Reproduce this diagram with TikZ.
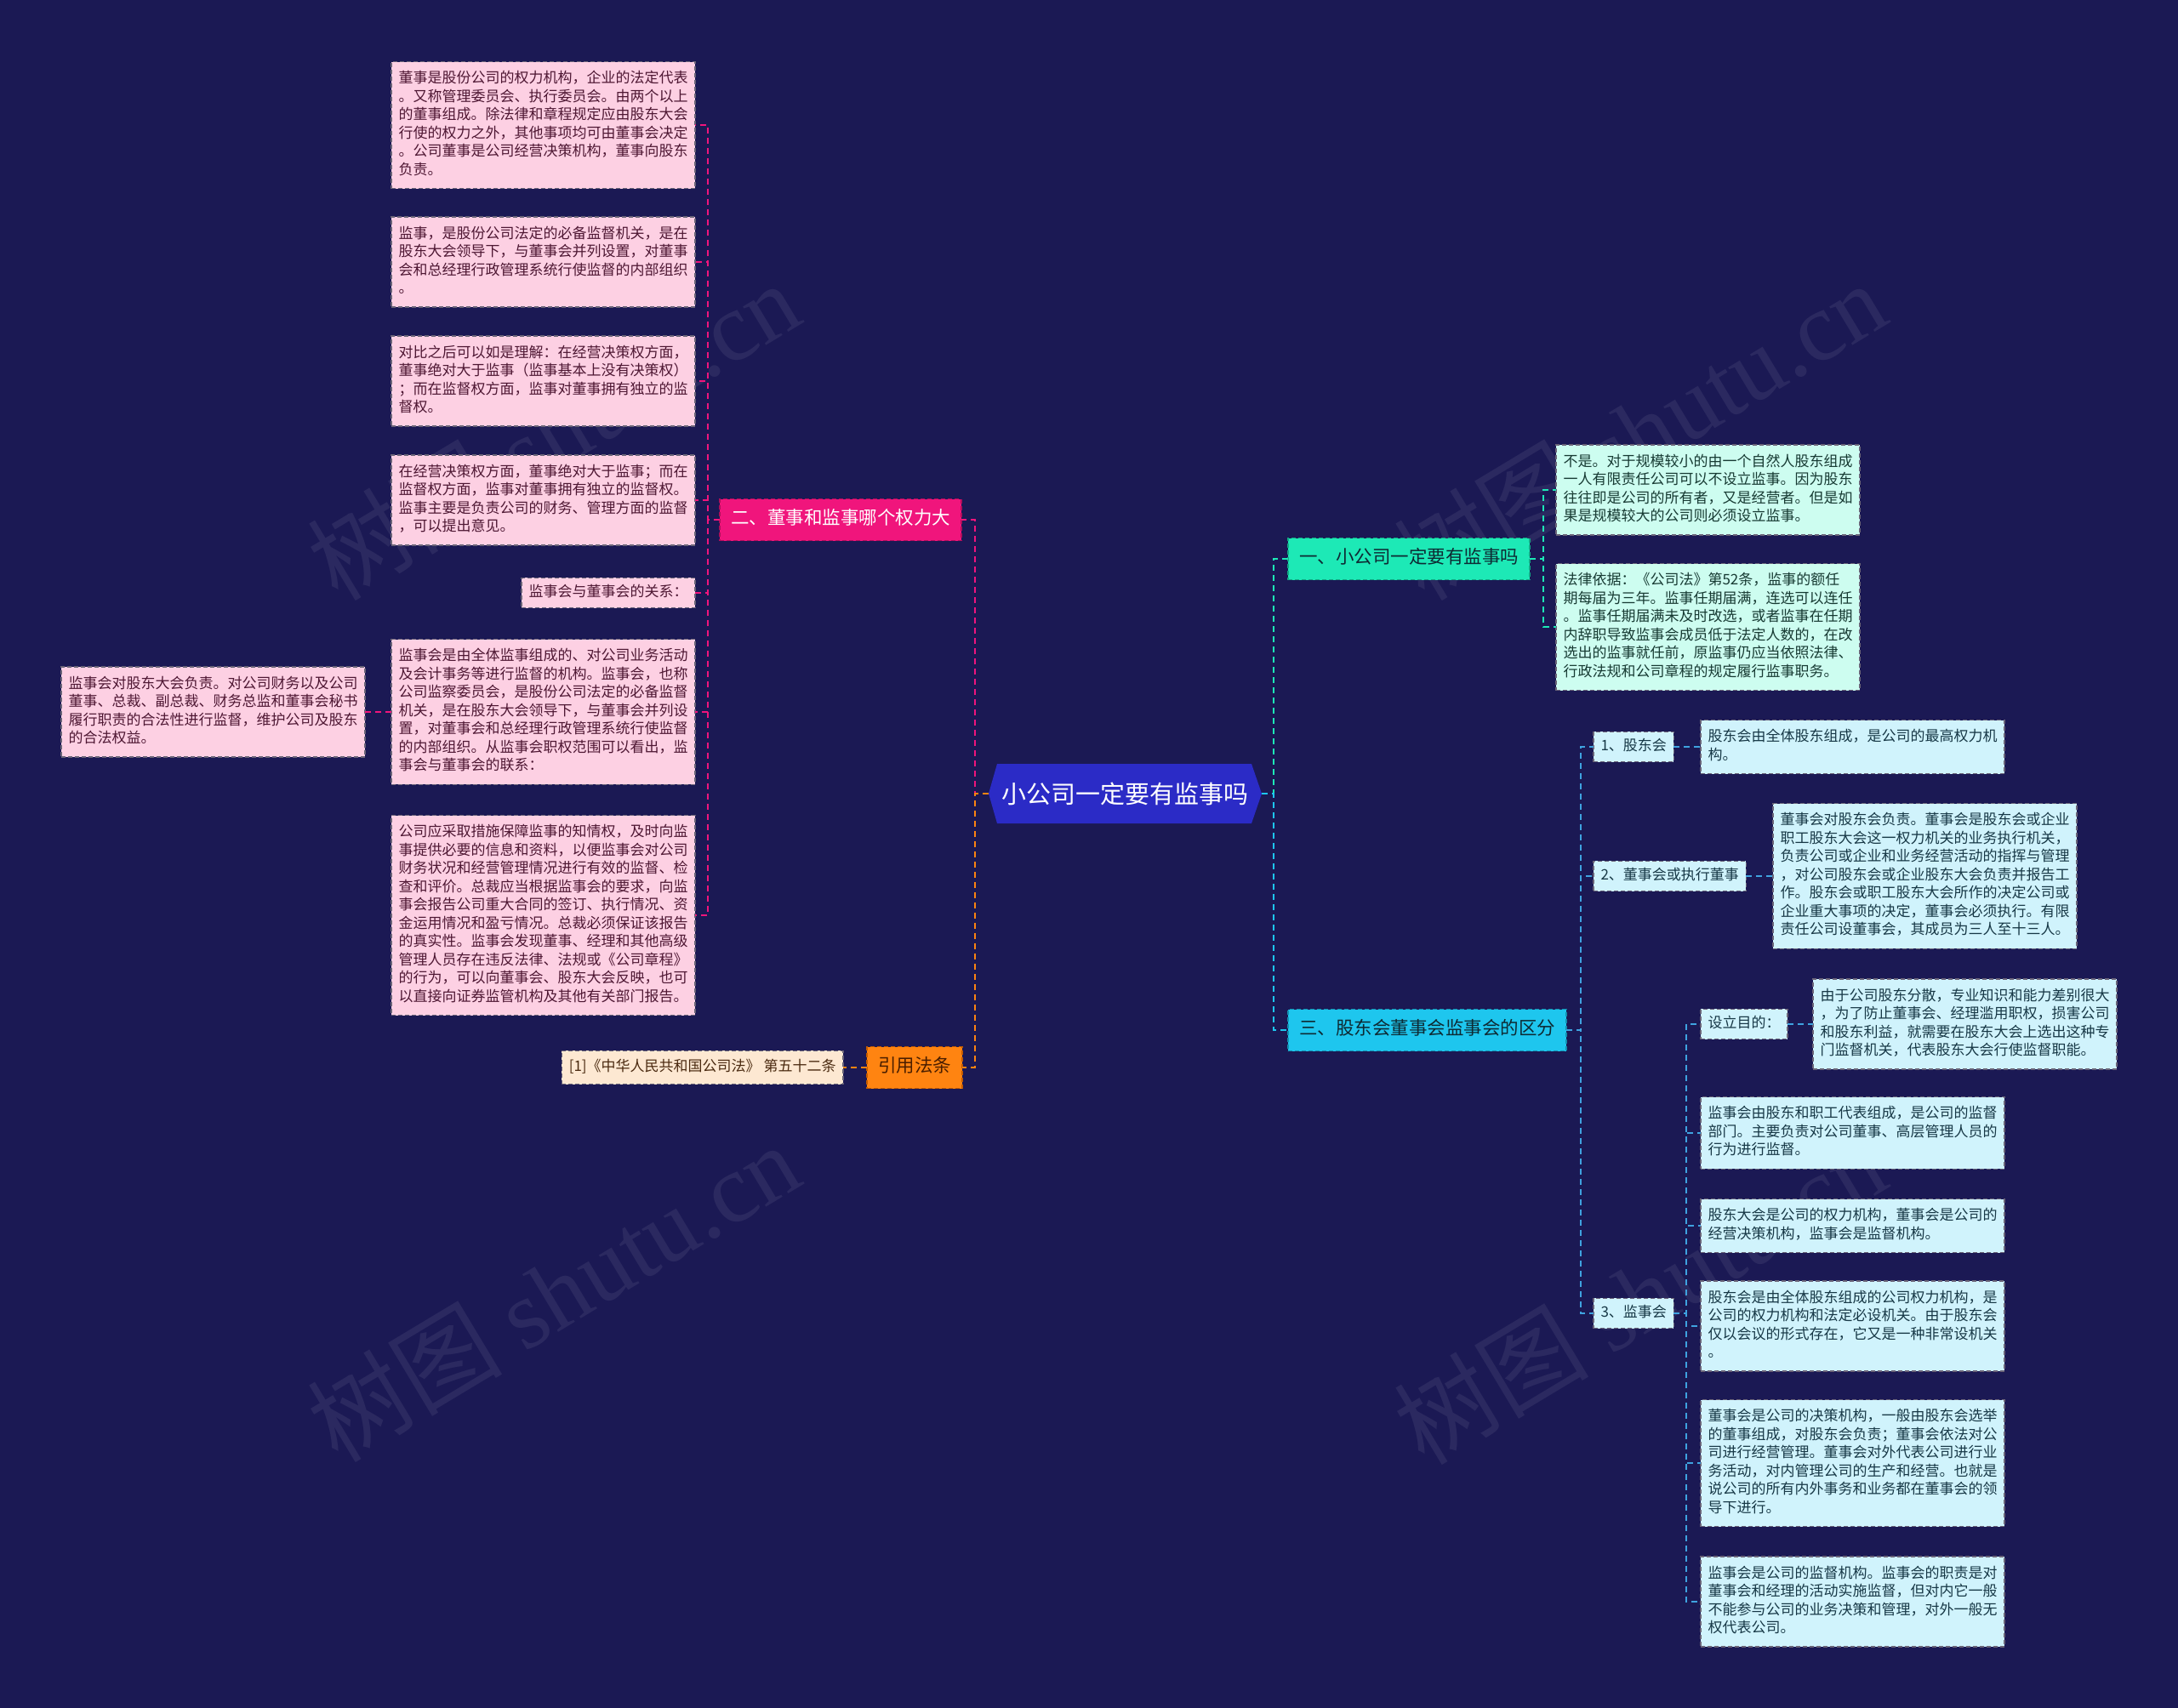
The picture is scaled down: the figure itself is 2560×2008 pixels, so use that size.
\documentclass[tikz,border=0pt]{standalone}
\usepackage{fontspec}
\setmainfont{Noto Sans CJK SC}
\newfontfamily\wmlatin{Liberation Serif}
\definecolor{bg}{HTML}{1B1954}
\definecolor{rootc}{HTML}{2B2BC6}
\definecolor{magc}{HTML}{F0157C}
\definecolor{magb}{HTML}{B00E5A}
\definecolor{orgc}{HTML}{FF8411}
\definecolor{orgb}{HTML}{C25A00}
\definecolor{orgt}{HTML}{4A1E00}
\definecolor{tealc}{HTML}{1DE9B6}
\definecolor{tealb}{HTML}{12A884}
\definecolor{cyanc}{HTML}{1EC6EE}
\definecolor{cyanb}{HTML}{1490B0}
\definecolor{bluel}{HTML}{3FA3E0}
\definecolor{pinkf}{HTML}{FDD0E3}
\definecolor{pinkt}{HTML}{4E1733}
\definecolor{peachf}{HTML}{FDE8D2}
\definecolor{peacht}{HTML}{4A2A10}
\definecolor{mintf}{HTML}{CDFDF0}
\definecolor{mintt}{HTML}{173A33}
\definecolor{cyanf}{HTML}{D0F3FC}
\definecolor{cyant}{HTML}{173846}
\definecolor{darkt}{HTML}{0E2A33}
\definecolor{leafb}{HTML}{6A6478}
\begin{document}
\begin{tikzpicture}[x=1pt,y=-1pt,
  every node/.style={inner sep=0pt,outer sep=0pt},
  dbox/.style={draw=#1, dash pattern=on 5pt off 3pt, line width=1.2pt, align=left,
    execute at begin node=\strut, execute at end node=\strut},
  leaftxt/.style={font=\fontsize{17}{21.5}\selectfont, inner xsep=8.5pt, inner ysep=10pt},
  wide/.style={text width=340pt},
  small/.style={inner ysep=7pt},
  pinkleaf/.style={dbox=leafb, fill=pinkf, text=pinkt, leaftxt},
  mintleaf/.style={dbox=leafb, fill=mintf, text=mintt, leaftxt},
  cyanleaf/.style={dbox=leafb, fill=cyanf, text=cyant, leaftxt},
  peachleaf/.style={dbox=leafb, fill=peachf, text=peacht, leaftxt, inner ysep=9pt},
  branch/.style={dbox=#1, font=\fontsize{21.5}{26}\selectfont, inner xsep=13pt, inner ysep=11.5pt},
  conn/.style={draw=#1, line width=2pt, dash pattern=on 7pt off 5pt},
  wm/.style={text=white, text opacity=0.07, font=\fontsize{115}{120}\selectfont, rotate=31}
]
\useasboundingbox (0,0) rectangle (2560,2008);
\fill[bg] (0,0) rectangle (2560,2008);

% watermarks
\node[wm] (wm1) at (650,506) {树图 {\wmlatin shutu.cn}};
\node[wm] (wm2) at (1927,506) {树图 {\wmlatin shutu.cn}};
\node[wm] (wm3) at (650,1519) {树图 {\wmlatin shutu.cn}};
\node[wm] (wm4) at (1927,1522) {树图 {\wmlatin shutu.cn}};

% root
\fill[rootc] (1162,933) -- (1172,898) -- (1471,898) -- (1483,933) -- (1471,968) -- (1172,968) -- cycle;
\node[text=white, font=\fontsize{29}{34}\selectfont, minimum width=321pt, minimum height=70pt] (root) at (1322.5,933) {小公司一定要有监事吗};

% level 1
\node[branch=magb, fill=magc, text=white, anchor=east] (b2) at (1130,611) {二、董事和监事哪个权力大};
\node[branch=orgb, fill=orgc, text=orgt, anchor=east] (cite) at (1131,1255) {引用法条};
\node[branch=tealb, fill=tealc, text=darkt, anchor=west] (b1) at (1514,657) {一、小公司一定要有监事吗};
\node[branch=cyanb, fill=cyanc, text=darkt, anchor=west] (b3) at (1514,1211) {三、股东会董事会监事会的区分};

% left leaves
\node[pinkleaf, wide, anchor=east] (l1) at (817,147) {董事是股份公司的权力机构，企业的法定代表\\。又称管理委员会、执行委员会。由两个以上\\的董事组成。除法律和章程规定应由股东大会\\行使的权力之外，其他事项均可由董事会决定\\。公司董事是公司经营决策机构，董事向股东\\负责。};
\node[pinkleaf, wide, anchor=east] (l2) at (817,308) {监事，是股份公司法定的必备监督机关，是在\\股东大会领导下，与董事会并列设置，对董事\\会和总经理行政管理系统行使监督的内部组织\\。};
\node[pinkleaf, wide, anchor=east] (l3) at (817,448) {对比之后可以如是理解：在经营决策权方面，\\董事绝对大于监事（监事基本上没有决策权）\\；而在监督权方面，监事对董事拥有独立的监\\督权。};
\node[pinkleaf, wide, anchor=east] (l4) at (817,588) {在经营决策权方面，董事绝对大于监事；而在\\监督权方面，监事对董事拥有独立的监督权。\\监事主要是负责公司的财务、管理方面的监督\\，可以提出意见。};
\node[pinkleaf, small, anchor=east] (l5) at (817,697) {监事会与董事会的关系：};
\node[pinkleaf, wide, anchor=east] (l6) at (817,837) {监事会是由全体监事组成的、对公司业务活动\\及会计事务等进行监督的机构。监事会，也称\\公司监察委员会，是股份公司法定的必备监督\\机关，是在股东大会领导下，与董事会并列设\\置，对董事会和总经理行政管理系统行使监督\\的内部组织。从监事会职权范围可以看出，监\\事会与董事会的联系：};
\node[pinkleaf, wide, anchor=east] (l7) at (429,837) {监事会对股东大会负责。对公司财务以及公司\\董事、总裁、副总裁、财务总监和董事会秘书\\履行职责的合法性进行监督，维护公司及股东\\的合法权益。};
\node[pinkleaf, wide, anchor=east] (l8) at (817,1076) {公司应采取措施保障监事的知情权，及时向监\\事提供必要的信息和资料，以便监事会对公司\\财务状况和经营管理情况进行有效的监督、检\\查和评价。总裁应当根据监事会的要求，向监\\事会报告公司重大合同的签订、执行情况、资\\金运用情况和盈亏情况。总裁必须保证该报告\\的真实性。监事会发现董事、经理和其他高级\\管理人员存在违反法律、法规或《公司章程》\\的行为，可以向董事会、股东大会反映，也可\\以直接向证券监管机构及其他有关部门报告。};
\node[peachleaf, anchor=east] (ref) at (991,1255) {[1]《中华人民共和国公司法》 第五十二条};

% right: branch 1 leaves
\node[mintleaf, wide, anchor=west] (a1) at (1829,576) {不是。对于规模较小的由一个自然人股东组成\\一人有限责任公司可以不设立监事。因为股东\\往往即是公司的所有者，又是经营者。但是如\\果是规模较大的公司则必须设立监事。};
\node[mintleaf, wide, anchor=west] (a2) at (1829,737) {法律依据：《公司法》第52条，监事的额任\\期每届为三年。监事任期届满，连选可以连任\\。监事任期届满未及时改选，或者监事在任期\\内辞职导致监事会成员低于法定人数的，在改\\选出的监事就任前，原监事仍应当依照法律、\\行政法规和公司章程的规定履行监事职务。};

% right: branch 3
\node[cyanleaf, small, anchor=west] (s1) at (1873,878) {1、股东会};
\node[cyanleaf, wide, anchor=west] (s1c) at (1999,878) {股东会由全体股东组成，是公司的最高权力机\\构。};
\node[cyanleaf, small, anchor=west] (s2) at (1873,1030) {2、董事会或执行董事};
\node[cyanleaf, wide, anchor=west] (s2c) at (2084,1030) {董事会对股东会负责。董事会是股东会或企业\\职工股东大会这一权力机关的业务执行机关，\\负责公司或企业和业务经营活动的指挥与管理\\，对公司股东会或企业股东大会负责并报告工\\作。股东会或职工股东大会所作的决定公司或\\企业重大事项的决定，董事会必须执行。有限\\责任公司设董事会，其成员为三人至十三人。};
\node[cyanleaf, small, anchor=west] (s3) at (1873,1544) {3、监事会};
\node[cyanleaf, small, anchor=west] (p) at (1999,1204) {设立目的：};
\node[cyanleaf, wide, anchor=west] (pc) at (2131,1204) {由于公司股东分散，专业知识和能力差别很大\\，为了防止董事会、经理滥用职权，损害公司\\和股东利益，就需要在股东大会上选出这种专\\门监督机关，代表股东大会行使监督职能。};
\node[cyanleaf, wide, anchor=west] (c1) at (1999,1332) {监事会由股东和职工代表组成，是公司的监督\\部门。主要负责对公司董事、高层管理人员的\\行为进行监督。};
\node[cyanleaf, wide, anchor=west] (c2) at (1999,1441) {股东大会是公司的权力机构，董事会是公司的\\经营决策机构，监事会是监督机构。};
\node[cyanleaf, wide, anchor=west] (c3) at (1999,1559) {股东会是由全体股东组成的公司权力机构，是\\公司的权力机构和法定必设机关。由于股东会\\仅以会议的形式存在，它又是一种非常设机关\\。};
\node[cyanleaf, wide, anchor=west] (c4) at (1999,1720) {董事会是公司的决策机构，一般由股东会选举\\的董事组成，对股东会负责；董事会依法对公\\司进行经营管理。董事会对外代表公司进行业\\务活动，对内管理公司的生产和经营。也就是\\说公司的所有内外事务和业务都在董事会的领\\导下进行。};
\node[cyanleaf, wide, anchor=west] (c5) at (1999,1883) {监事会是公司的监督机构。监事会的职责是对\\董事会和经理的活动实施监督，但对内它一般\\不能参与公司的业务决策和管理，对外一般无\\权代表公司。};

% connectors
\draw[conn=magc] (root.west) -- ++(-16,0) |- (b2.east);
\draw[conn=orgc] (root.west) -- ++(-16,0) |- (cite.east);
\draw[conn=tealc] (root.east) -- ++(14,0) |- (b1.west);
\draw[conn=cyanc] (root.east) -- ++(14,0) |- (b3.west);

\foreach \n in {l1,l2,l3,l4,l5,l6,l8}
  \draw[conn=magc] (b2.west) -- ++(-14,0) |- (\n.east);
\draw[conn=magc] (l6.west) -- (l7.east);
\draw[conn=orgc] (cite.west) -- (ref.east);

\foreach \n in {a1,a2}
  \draw[conn=tealc] (b1.east) -- ++(16,0) |- (\n.west);

\foreach \n in {s1,s2,s3}
  \draw[conn=bluel] (b3.east) -- ++(17,0) |- (\n.west);
\draw[conn=bluel] (s1.east) -- (s1c.west);
\draw[conn=bluel] (s2.east) -- (s2c.west);
\foreach \n in {p,c1,c2,c3,c4,c5}
  \draw[conn=bluel] (s3.east) -- ++(15,0) |- (\n.west);
\draw[conn=bluel] (p.east) -- (pc.west);
\end{tikzpicture}
\end{document}
